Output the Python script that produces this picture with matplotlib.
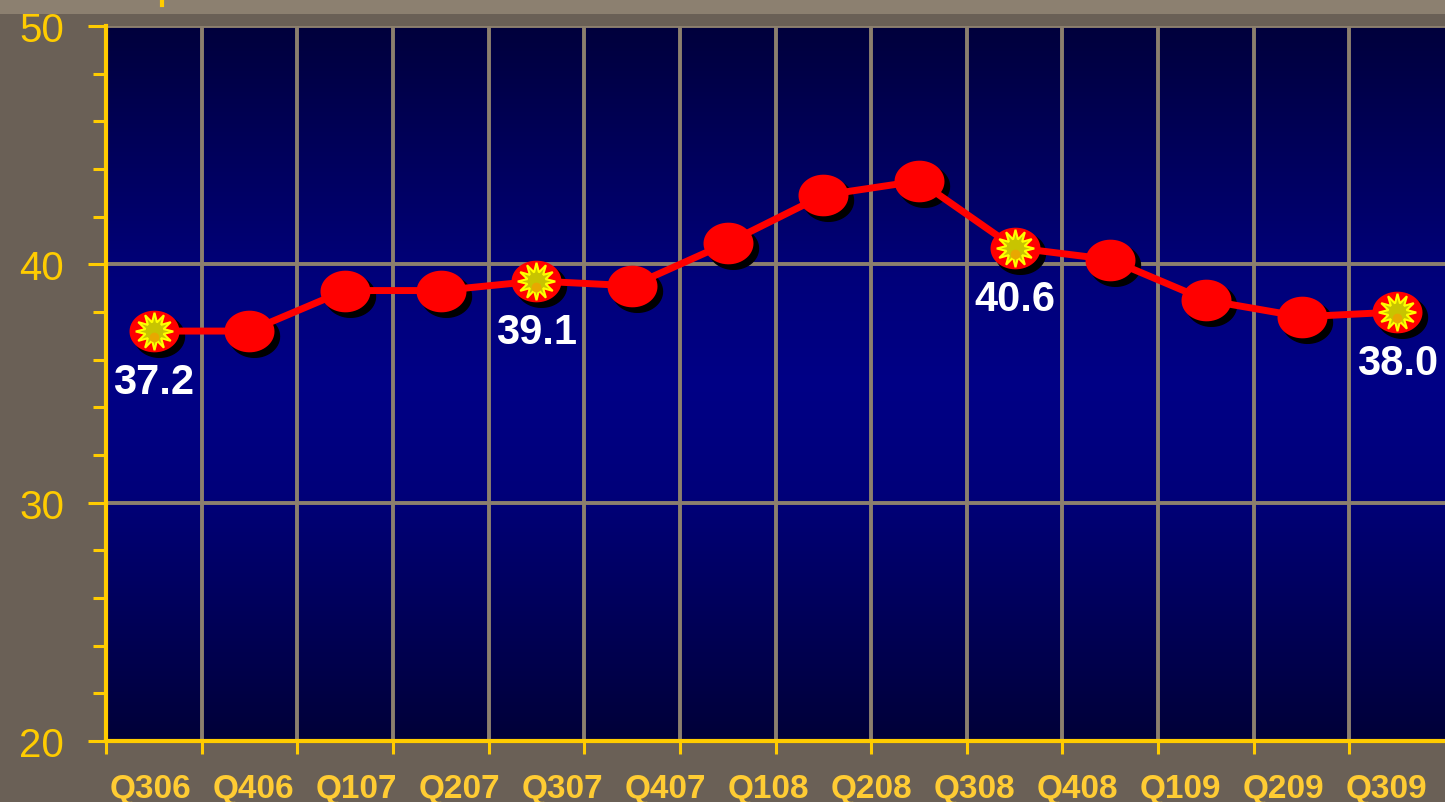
import numpy as np
import matplotlib.pyplot as plt
from matplotlib.path import Path
from matplotlib.transforms import ScaledTranslation
from matplotlib.colors import LinearSegmentedColormap

# data
values = [37.2, 37.2, 38.9, 38.9, 39.3, 39.1, 40.9, 42.9, 43.5, 40.7, 40.2, 38.5, 37.8, 38.0]
highlight = [0, 4, 9, 13]
point_labels = ["37.2", "39.1", "40.6", "38.0"]
quarters = ["Q306", "Q406", "Q107", "Q207", "Q307", "Q407", "Q108",
            "Q208", "Q308", "Q408", "Q109", "Q209", "Q309"]

yellow = "#ffcc00"
label_yellow = "#ffcc33"
grid_col = "#8c7f6e"
bg = "#6a6056"

plt.rcParams['font.family'] = ['Liberation Sans', 'DejaVu Sans']

fig = plt.figure(figsize=(14.45, 8.03), dpi=100)
fig.patch.set_facecolor(bg)
# lighter strip along the top edge
fig.patches.append(plt.Rectangle((0, 1 - 15 / 803), 1, 15 / 803, transform=fig.transFigure,
                                 facecolor="#8c8070", edgecolor="none", zorder=0))
fig.lines.append(plt.Line2D([162 / 1445, 162 / 1445], [1, 1 - 6 / 803], transform=fig.transFigure,
                            color=yellow, lw=3))

ax = fig.add_axes([106 / 1445, 61 / 803, 1 - 106 / 1445, 715 / 803])
n = len(values)
x = np.arange(n)

# vertical gradient background
cmap = LinearSegmentedColormap.from_list("bluegrad", [
    (0.0, "#00003c"), (0.35, "#00007a"), (0.5, "#000086"), (0.65, "#00007a"), (1.0, "#000038")])
grad = np.linspace(0, 1, 256).reshape(-1, 1)
ax.imshow(grad, aspect="auto", cmap=cmap, extent=[-0.5, n - 0.5, 20, 50], origin="upper", zorder=0)

ax.set_xlim(-0.5, n - 0.5)
ax.set_ylim(20, 50)

# line, marker shadows, markers
t = np.linspace(0, 2 * np.pi, 60)
ellipse = Path(np.column_stack([1.2 * np.cos(t), np.sin(t)]), closed=True)
shadow_tr = ax.transData + ScaledTranslation(5 / 100, -5 / 100, fig.dpi_scale_trans)
ax.plot(x, values, linestyle="none", marker=ellipse, markersize=36, color="black",
        transform=shadow_tr, zorder=3)
ax.plot(x, values, color="#ff0000", lw=5, zorder=4, solid_capstyle="round")
ax.plot(x, values, linestyle="none", marker=ellipse, markersize=36, color="#ff0000",
        markeredgewidth=0, zorder=5)
hx = [x[i] for i in highlight]
hy = [values[i] for i in highlight]
ax.plot(hx, hy, linestyle="none", marker=(12, 1, 0), markersize=27, color="#c8c400",
        markeredgecolor="#ffff00", markeredgewidth=1.5, zorder=6)
ax.plot(hx, hy, linestyle="none", marker="o", markersize=7, color="#e8a800",
        markeredgewidth=0, zorder=6,
        transform=ax.transData + ScaledTranslation(0, -6 / 100, fig.dpi_scale_trans))

for i, lab in zip(highlight, point_labels):
    ax.annotate(lab, (x[i], values[i]), xytext=(0, -37), textcoords="offset points",
                ha="center", va="center", color="white", fontsize=30, fontweight="bold", zorder=7)

# ticks, grid and spines
ax.set_xticks(np.arange(-0.5, n - 0.5, 1))
ax.set_xticklabels([])
ax.set_yticks([20, 30, 40, 50])
ax.set_yticks(np.arange(20, 51, 2), minor=True)
ax.tick_params(axis="x", direction="out", length=9, width=2.2, color=yellow)
ax.tick_params(axis="y", which="major", direction="out", length=13, width=2.2, color=yellow,
               labelcolor=yellow, labelsize=29, pad=17)
ax.tick_params(axis="y", which="minor", direction="out", length=9.5, width=2.2, color=yellow)
ax.grid(True, color=grid_col, lw=2.8, zorder=1)
ax.set_axisbelow(False)
for gl in ax.get_xgridlines() + ax.get_ygridlines():
    gl.set_zorder(1)
for side in ["top", "right"]:
    ax.spines[side].set_visible(False)
for side in ["left", "bottom"]:
    ax.spines[side].set_color(yellow)
    ax.spines[side].set_linewidth(3)
    ax.spines[side].set_zorder(8)

# quarter labels spread over 13 slots along the bottom
ax2 = ax.twiny()
ax2.set_xlim(0, len(quarters))
ax2.xaxis.set_ticks_position("bottom")
ax2.xaxis.set_label_position("bottom")
ax2.set_xticks(np.arange(len(quarters)) + 0.43)
ax2.set_xticklabels(quarters, fontsize=24, fontweight="bold", color=label_yellow)
ax2.tick_params(axis="x", length=0, pad=23)
for s in ax2.spines.values():
    s.set_visible(False)
ax2.patch.set_visible(False)

fig.savefig("out.png", dpi=100, facecolor=fig.get_facecolor())
